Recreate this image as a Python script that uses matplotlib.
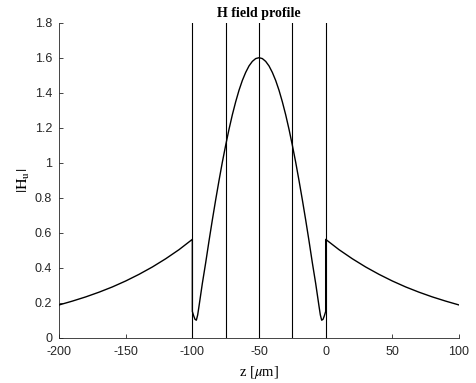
import matplotlib
matplotlib.use("Agg")
import matplotlib.pyplot as plt
import numpy as np

# |H_u| along z (µm); the layer boundaries repeat z so the jumps at -100 and 0 are drawn
z_left = [-200, -190, -180, -170, -160, -150, -140, -130, -120, -110, -100]
h_left = [0.187, 0.209, 0.233, 0.260, 0.290, 0.324, 0.362, 0.404, 0.451, 0.503, 0.562]

z_core = [-100, -99, -98, -97, -96, -95, -92.5, -90, -87.5, -85, -82.5, -80, -77.5,
          -75, -72.5, -70, -67.5, -65, -62.5, -60, -57.5, -55, -52.5, -50,
          -47.5, -45, -42.5, -40, -37.5, -35, -32.5, -30, -27.5, -25, -22.5,
          -20, -17.5, -15, -12.5, -10, -7.5, -5, -4, -3, -2, -1, 0]
h_core = [0.15, 0.125, 0.105, 0.10, 0.13, 0.18, 0.31, 0.428, 0.553, 0.673, 0.788, 0.898, 1.003,
          1.100, 1.191, 1.274, 1.348, 1.414, 1.470, 1.516, 1.553, 1.579, 1.595, 1.600,
          1.595, 1.579, 1.553, 1.516, 1.470, 1.414, 1.348, 1.274, 1.191, 1.100, 1.003,
          0.898, 0.788, 0.673, 0.553, 0.428, 0.31, 0.18, 0.13, 0.10, 0.105, 0.125, 0.15]

z_right = [0, 10, 20, 30, 40, 50, 60, 70, 80, 90, 100]
h_right = [0.562, 0.503, 0.451, 0.404, 0.362, 0.324, 0.290, 0.260, 0.233, 0.209, 0.187]

# layer interfaces
interfaces = [-100, -75, -50, -25, 0]

x_ticks = [-200, -150, -100, -50, 0, 50, 100]
x_tick_labels = ["-200", "-150", "-100", "-50", "0", "50", "100"]
y_ticks = [0, 0.2, 0.4, 0.6, 0.8, 1.0, 1.2, 1.4, 1.6, 1.8]
y_tick_labels = ["0", "0.2", "0.4", "0.6", "0.8", "1", "1.2", "1.4", "1.6", "1.8"]

plt.rcParams["mathtext.fontset"] = "stix"

fig = plt.figure(figsize=(4.77, 3.83), dpi=100)
ax = fig.add_axes([0.1237, 0.1183, 0.8386, 0.8224])

z_all = z_left + z_core + z_right
h_all = h_left + h_core + h_right
ax.plot(z_all, h_all, color="black", lw=1.0, zorder=3)

for zi in interfaces:
    ax.plot([zi, zi], [0, 1.8], color="black", lw=0.8, zorder=2)

ax.set_xlim(-200, 100)
ax.set_ylim(0, 1.8)
ax.set_xticks(x_ticks)
ax.set_xticklabels(x_tick_labels)
ax.set_yticks(y_ticks)
ax.set_yticklabels(y_tick_labels)

axis_color = "#262626"
for side in ["top", "right"]:
    ax.spines[side].set_visible(False)
for side in ["left", "bottom"]:
    ax.spines[side].set_color(axis_color)
    ax.spines[side].set_linewidth(0.6)
ax.tick_params(direction="in", length=3, width=0.6, colors=axis_color,
               labelsize=9)
ax.tick_params(axis="x", pad=6)
ax.tick_params(axis="y", pad=5)
for lab in ax.get_xticklabels() + ax.get_yticklabels():
    lab.set_family("Liberation Sans")

ax.set_title("H field profile", fontsize=10, fontweight="bold",
             family="Liberation Serif", pad=4)
ax.set_xlabel(r"z [$\mu$m]", fontsize=10.5, family="Liberation Serif", labelpad=4)
ax.set_ylabel(r"$|\mathrm{H}_\mathrm{u}|$", fontsize=11.5, labelpad=2)

fig.savefig("out.png", dpi=100)
